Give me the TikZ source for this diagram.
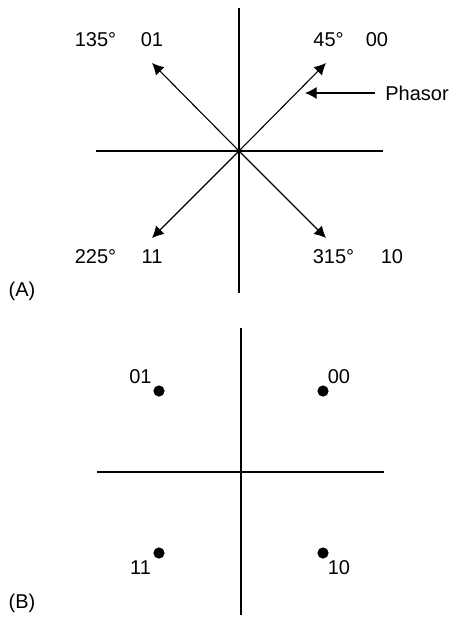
\documentclass[tikz,border=0pt]{standalone}
\usepackage{fontspec}
\setmainfont{Liberation Sans}
\usetikzlibrary{arrows.meta}
\tikzset{
  axis/.style={line width=0.6pt},
  phasor/.style={line width=0.55pt, -{Latex[length=5.8pt,width=6pt]}},
  lbl/.style={font=\fontsize{10}{12}\selectfont, inner sep=0pt},
  symb/.style={circle, fill=black, inner sep=0pt, minimum size=5.6pt}
}
\begin{document}
\begin{tikzpicture}[x=0.5pt, y=-0.5pt]
\useasboundingbox (0,0) rectangle (450,617);
% (A) phasors
\coordinate (oa) at (239,151);
\coordinate (oa-w) at (96,151);
\coordinate (oa-e) at (383,151);
\coordinate (oa-n) at (239,8);
\coordinate (oa-s) at (239,293);
\draw[axis] (oa-w) -- (oa-e);
\draw[axis] (oa-n) -- (oa-s);
\coordinate (p45) at (326,63);
\coordinate (p135) at (152,63);
\coordinate (p225) at (152,238);
\coordinate (p315) at (326,238);
\draw[phasor] (oa) -- (p45);
\draw[phasor] (oa) -- (p135);
\draw[phasor] (oa) -- (p225);
\draw[phasor] (oa) -- (p315);
\node[lbl] (d135) at (95.5,40) {135°};
\node[lbl] (c01) at (152,40) {01};
\node[lbl] (d45) at (328.5,40) {45°};
\node[lbl] (c00) at (377,40) {00};
\node[lbl] (d225) at (95.5,257) {225°};
\node[lbl] (c11) at (152,257) {11};
\node[lbl] (d315) at (333.5,257) {315°};
\node[lbl] (c10) at (392,257) {10};
\node[lbl, anchor=west] (name) at (385,93) {Phasor};
\coordinate (ptr) at (305,93);
\draw[phasor] (375,93) -- (ptr);
\node[lbl] (tagA) at (22,291) {(A)};
% (B) constellation
\coordinate (ob-w) at (97,472);
\coordinate (ob-e) at (384,472);
\coordinate (ob-n) at (241,328);
\coordinate (ob-s) at (241,615);
\draw[axis] (ob-w) -- (ob-e);
\draw[axis] (ob-n) -- (ob-s);
\node[symb] (s01) at (159,391) {};
\node[symb] (s00) at (323,391) {};
\node[symb] (s11) at (159,553) {};
\node[symb] (s10) at (323,553) {};
\node[lbl] (b01) at (140.5,377) {01};
\node[lbl] (b00) at (339,377) {00};
\node[lbl] (b11) at (140.5,568) {11};
\node[lbl] (b10) at (339,568) {10};
\node[lbl] (tagB) at (22,603) {(B)};
\end{tikzpicture}
\end{document}
